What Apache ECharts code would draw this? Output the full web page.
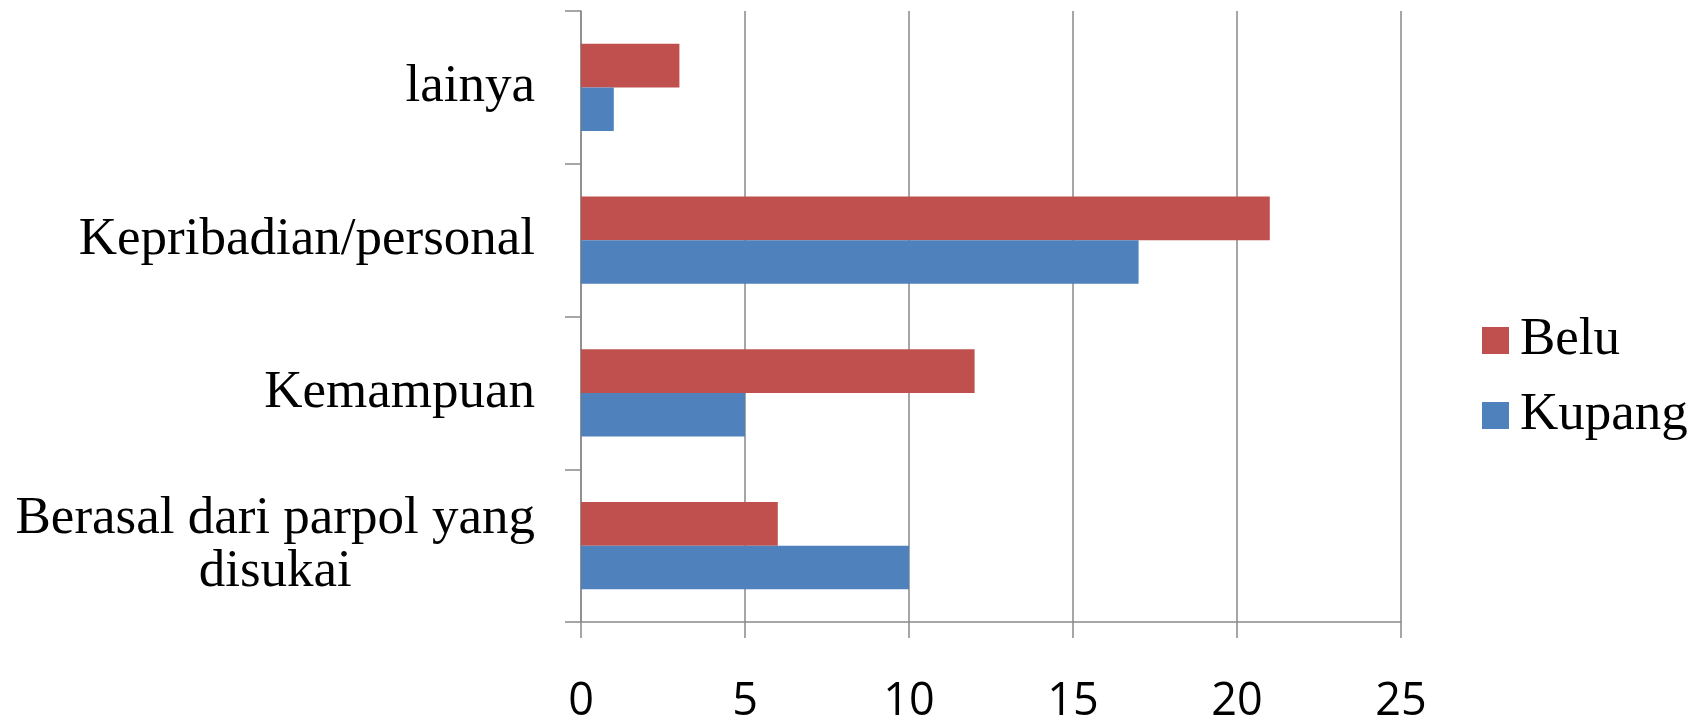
<!DOCTYPE html>
<html>
<head>
<meta charset="utf-8">
<script src="https://cdn.jsdelivr.net/npm/echarts@6/dist/echarts.min.js"></script>
<style>
html,body{margin:0;padding:0;background:#fff;}
#chart{width:1700px;height:726px;}
</style>
</head>
<body>
<div id="chart"></div>
<script>
const categories = ['Berasal dari parpol yang\ndisukai', 'Kemampuan', 'Kepribadian/personal', 'lainya'];
const seriesNames = ['Belu', 'Kupang'];
const beluValues = [6, 12, 21, 3];
const kupangValues = [10, 5, 17, 1];
const xTicks = { min: 0, max: 25, interval: 5 };
const colors = { Belu: '#C0504D', Kupang: '#4F81BD' };

const chart = echarts.init(document.getElementById('chart'), null, { renderer: 'canvas' });
const axisGray = '#898989';
chart.setOption({
  animation: false,
  backgroundColor: '#ffffff',
  grid: { left: 581, right: 299, top: 11, bottom: 104, containLabel: false },
  legend: {
    orient: 'vertical',
    left: 1477,
    top: 309,
    itemWidth: 27,
    itemHeight: 27,
    itemGap: 22,
    icon: 'rect',
    data: [seriesNames[0], seriesNames[1]],
    textStyle: { fontFamily: 'Liberation Serif', fontSize: 53, color: '#000', padding: [0, 0, 0, 6] }
  },
  xAxis: {
    type: 'value',
    min: xTicks.min, max: xTicks.max, interval: xTicks.interval,
    axisLine: { show: true, lineStyle: { color: axisGray, width: 1.5 } },
    axisTick: { show: true, inside: false, length: 16, lineStyle: { color: axisGray, width: 1.5 } },
    splitLine: { show: true, lineStyle: { color: axisGray, width: 1.5 } },
    axisLabel: { fontFamily: 'Open Sans', fontSize: 45, color: '#000', margin: 58 }
  },
  yAxis: {
    type: 'category',
    data: categories,
    axisLine: { show: true, lineStyle: { color: axisGray, width: 1.5 } },
    axisTick: { show: true, inside: false, length: 16, lineStyle: { color: axisGray, width: 1.5 } },
    axisLabel: {
      margin: 46,
      fontFamily: 'Liberation Serif', fontSize: 53, color: '#000', lineHeight: 53,
      formatter: function (v) { return v.split('\n').map(function (s) { return '{c|' + s + '}'; }).join('\n'); },
      rich: { c: { align: 'center', fontFamily: 'Liberation Serif', fontSize: 53, lineHeight: 53, color: '#000' } }
    }
  },
  series: [
    { name: seriesNames[0], type: 'bar', data: beluValues, barGap: '0%', barCategoryGap: '43%',
      itemStyle: { color: colors.Belu } },
    { name: seriesNames[1], type: 'bar', data: kupangValues, barGap: '0%', barCategoryGap: '43%',
      itemStyle: { color: colors.Kupang } }
  ]
});
</script>
</body>
</html>
